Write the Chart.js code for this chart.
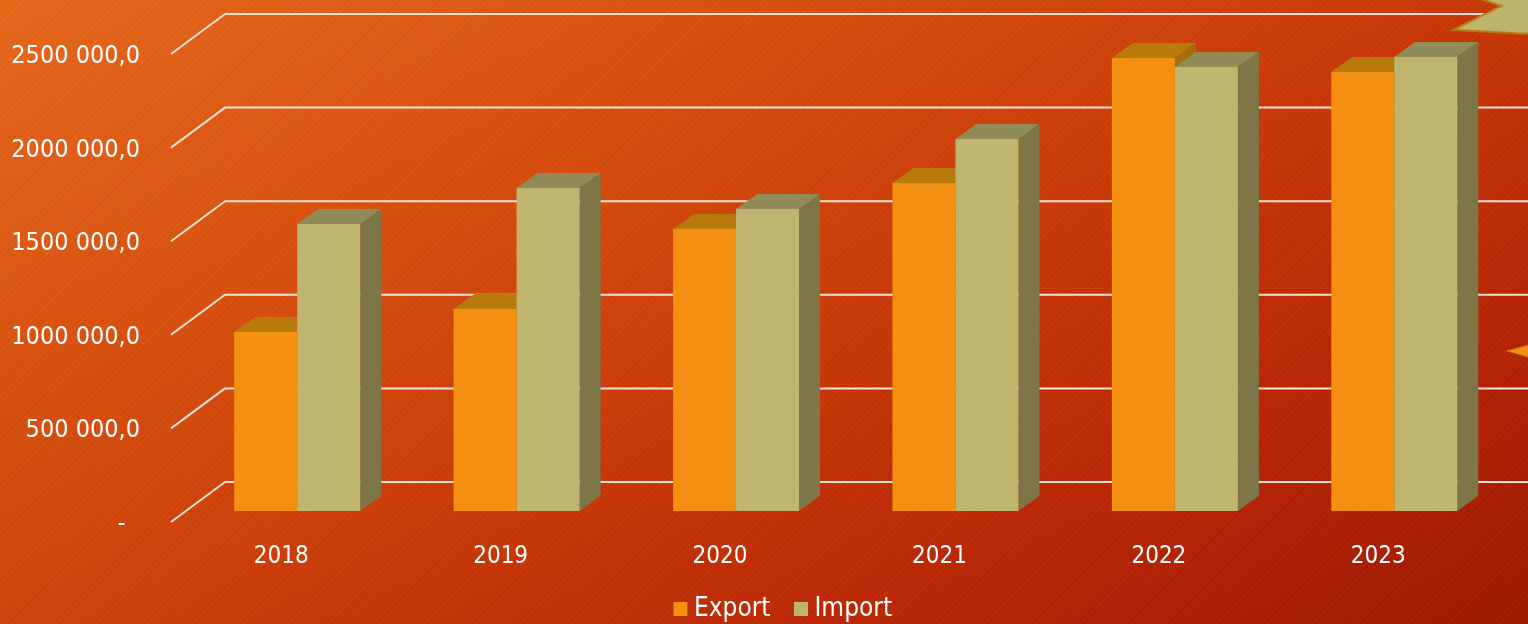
<!DOCTYPE html>
<html><head><meta charset="utf-8">
<script src="https://cdn.jsdelivr.net/npm/chart.js@4"></script>
<style>
html,body{margin:0;padding:0;width:1528px;height:624px;overflow:hidden}
body{position:relative;background:
 repeating-linear-gradient(135deg,rgba(255,255,255,.02) 0 2px,rgba(0,0,0,.02) 2px 4px),
 linear-gradient(152deg,#E8681C 0%,#D9500E 28%,#CB3A07 52%,#B92405 78%,#9E1800 100%);}
canvas{position:absolute;left:0;top:0;z-index:1}
svg{position:absolute;left:0;top:0;z-index:2}
</style></head><body>
<canvas id="c" width="1528" height="624"></canvas>
<svg width="1528" height="624">
<polygon points="1475,-3 1501,6 1453,30 1532,34 1532,-3" fill="#BDB36A" stroke="#B87A10" stroke-width="2"/>
<polygon points="1507,351 1532,344 1532,358" fill="#F39012" stroke="#C8780E" stroke-width="1"/>
</svg>
<script>
const categories = ['2018','2019','2020','2021','2022','2023'];
const exportValues = [956000,1079000,1506000,1752000,2420000,2345000];
const importValues = [1533000,1725000,1613000,1987000,2372000,2425000];
const yTickLabels = ['-\u00a0\u00a0','500 000,0','1000 000,0','1500 000,0','2000 000,0','2500 000,0'];
const FONT = '"DejaVu Sans Condensed","DejaVu Sans"';
const DX = 21, DY = 15;
const faces = [{top:'#B97A0C',side:'#A86C0A'},{top:'#918B58',side:'#7E7647'}];
const wall = {
  id:'wall',
  afterLayout(chart){ chart.legend.left += 68; },
  beforeDatasetsDraw(chart){
    const ctx = chart.ctx, y = chart.scales.y;
    ctx.save();
    ctx.strokeStyle = '#F6E3D6'; ctx.lineWidth = 2; ctx.lineJoin='round';
    y.ticks.forEach(t=>{
      const p = y.getPixelForValue(t.value);
      ctx.beginPath(); ctx.moveTo(171,p+11); ctx.lineTo(225,p-29); ctx.lineTo(1528,p-29); ctx.stroke();
    });
    [0,1].forEach(i=>{
      chart.getDatasetMeta(i).data.forEach(b=>{
        const l = b.x-b.width/2, r = b.x+b.width/2, t = b.y, bot = b.base;
        ctx.fillStyle = faces[i].top;
        ctx.beginPath(); ctx.moveTo(l,t); ctx.lineTo(l+DX,t-DY); ctx.lineTo(r+DX,t-DY); ctx.lineTo(r,t); ctx.closePath(); ctx.fill();
        ctx.fillStyle = faces[i].side;
        ctx.beginPath(); ctx.moveTo(r,t); ctx.lineTo(r+DX,t-DY); ctx.lineTo(r+DX,bot-DY); ctx.lineTo(r,bot); ctx.closePath(); ctx.fill();
      });
    });
    ctx.restore();
  }
};
new Chart(document.getElementById('c'),{
  type:'bar',
  data:{labels:categories,datasets:[
    {label:'Export',data:exportValues,backgroundColor:'#F39012'},
    {label:'Import',data:importValues,backgroundColor:'#BFB56E'}
  ]},
  plugins:[wall],
  options:{
    responsive:false,animation:false,
    layout:{padding:{left:0,right:24,top:43,bottom:-8}},
    datasets:{bar:{categoryPercentage:126/219.4,barPercentage:1}},
    plugins:{
      tooltip:{enabled:false},
      title:{display:false},
      legend:{position:'bottom',labels:{
        color:'#fff',font:{family:FONT,size:26},
        usePointStyle:true,pointStyle:'rect',boxWidth:1,boxHeight:14,padding:30,
        generateLabels(chart){
          return chart.data.datasets.map((d,i)=>({text:d.label,fillStyle:d.backgroundColor,strokeStyle:d.backgroundColor,lineWidth:0,pointStyle:'rect',fontColor:'#fff',datasetIndex:i,hidden:false}));
        }
      }}
    },
    scales:{
      x:{
        grid:{display:false},border:{display:false},
        ticks:{color:'#fff',font:{family:FONT,size:24},padding:23,labelOffset:-16,maxRotation:0,minRotation:0},
        afterFit(s){s.height=55;s.paddingLeft=0;s.paddingRight=0;}
      },
      y:{
        min:0,max:2500000,
        grid:{display:false},border:{display:false},
        ticks:{
          stepSize:500000,autoSkip:false,color:'#fff',padding:39.5,
          font:{family:FONT,size:25,lineHeight:'27px'},
          callback(v){return ['',yTickLabels[Math.round(v/500000)]];}
        },
        afterFit(s){s.width=187.5;s.paddingTop=0;s.paddingBottom=0;}
      }
    }
  }
});
</script>
</body></html>
